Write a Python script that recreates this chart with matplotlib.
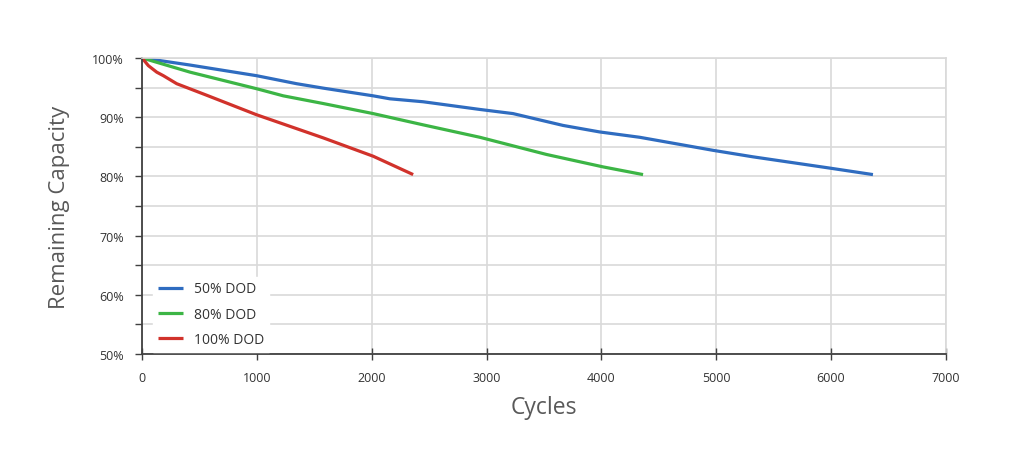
import numpy as np
import matplotlib
matplotlib.use('Agg')
import matplotlib.pyplot as plt
from matplotlib.ticker import MultipleLocator, FuncFormatter

plt.rcParams['font.family'] = ['Open Sans', 'DejaVu Sans']

# values
cycles50 = [0, 418, 998, 1346, 1578, 2013, 2158, 2448, 2942, 3231, 3667, 3986, 4334, 4972, 5320, 5988, 6365]
cap50 = [100, 98.8, 97.0, 95.65, 94.9, 93.6, 93.1, 92.6, 91.3, 90.6, 88.6, 87.5, 86.6, 84.4, 83.3, 81.4, 80.3]

cycles80 = [0, 418, 708, 998, 1230, 1578, 2013, 2448, 2942, 3522, 4015, 4363]
cap80 = [100, 97.6, 96.2, 94.8, 93.6, 92.3, 90.6, 88.7, 86.6, 83.7, 81.6, 80.3]

cycles100 = [0, 55, 128, 186, 302, 563, 998, 1578, 2013, 2361]
cap100 = [100, 98.7, 97.6, 97.0, 95.65, 93.7, 90.4, 86.5, 83.4, 80.3]

seriesNames = ['50% DOD', '80% DOD', '100% DOD']
seriesColors = ['#2f6cc0', '#3cb545', '#d1322b']

fig = plt.figure(figsize=(10.24, 4.52), dpi=100)
ax = fig.add_axes([0.1387, 0.2146, 0.785, 0.655])

for x, y, name, col in zip([cycles50, cycles80, cycles100],
                           [cap50, cap80, cap100], seriesNames, seriesColors):
    ax.plot(x, y, color=col, lw=2.3, label=name, solid_capstyle='butt')

ax.set_xlim(0, 7000)
ax.set_ylim(50, 100)
ax.xaxis.set_major_locator(MultipleLocator(1000))
ax.yaxis.set_major_locator(MultipleLocator(5))
ax.yaxis.set_major_formatter(FuncFormatter(lambda v, p: f'{int(v)}%' if v % 10 == 0 else ''))
ax.grid(True, color='#d9d9d9', lw=1.2)
ax.set_axisbelow(True)

for side in ['top', 'right']:
    ax.spines[side].set_color('#d9d9d9')
    ax.spines[side].set_linewidth(1.2)
for side in ['left', 'bottom']:
    ax.spines[side].set_color('#404040')
    ax.spines[side].set_linewidth(1.3)

ax.tick_params(axis='y', direction='out', length=5, width=1, color='#404040',
               labelsize=9, labelcolor='#333333', pad=8)
ax.tick_params(axis='x', direction='inout', length=8, width=1, color='#404040',
               labelsize=9, labelcolor='#333333', pad=8)

ax.set_ylabel('Remaining Capacity', fontsize=16, color='#595959', labelpad=16)
ax.set_xlabel('Cycles', fontsize=16.5, color='#595959', labelpad=8)

leg = ax.legend(loc='upper left', bbox_to_anchor=(0.005, 0.285), frameon=True,
                fancybox=False, edgecolor='white', facecolor='white', framealpha=1,
                fontsize=10, handlelength=1.8, labelspacing=0.75, borderpad=0.35)
for t in leg.get_texts():
    t.set_color('#333333')

fig.savefig('out.png', dpi=100)
